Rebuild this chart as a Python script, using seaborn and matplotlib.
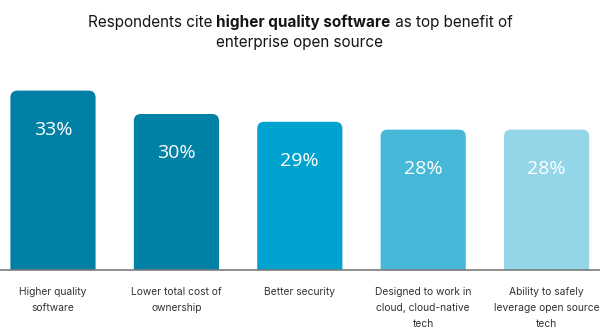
import matplotlib
matplotlib.use("Agg")
import matplotlib.pyplot as plt
from matplotlib.patches import FancyBboxPatch
import seaborn as sns
import pandas as pd

categories = [
    "Higher quality\nsoftware",
    "Lower total cost of\nownership",
    "Better security",
    "Designed to work in\ncloud, cloud-native\ntech",
    "Ability to safely\nleverage open source\ntech",
]
values = [33, 30, 29, 28, 28]
value_labels = ["33%", "30%", "29%", "28%", "28%"]
colors = ["#0080a4", "#0081a5", "#00a3d0", "#46b9da", "#93d6e8"]

title_parts = [
    ("Respondents cite ", "normal"),
    ("higher quality software", "bold"),
    (" as top benefit of", "normal"),
]
title_line2 = "enterprise open source"

sns.set_theme(style="white")
plt.rcParams["font.family"] = ["Inter", "DejaVu Sans"]

W, H, DPI = 600, 331, 100
fig = plt.figure(figsize=(W / DPI, H / DPI), dpi=DPI)
fig.patch.set_facecolor("white")

# axes spans the full width; baseline at y=270 px, top at y=80 px
ax = fig.add_axes([0, 61 / H, 1, 190 / H])

df = pd.DataFrame({"category": categories, "value": values})
sns.barplot(data=df, x="category", y="value", hue="category",
            palette=colors, legend=False, width=0.69, ax=ax,
            saturation=1)

ymin, ymax = 10, 10 + 190 / 7.8
xmin, xmax = -53 / 123.4, (600 - 53) / 123.4
ax.set_xlim(xmin, xmax)
ax.set_ylim(ymin, ymax)

# convert plain bars into bars with rounded top corners
px_per_x = W / (xmax - xmin)
px_per_y = 190 / (ymax - ymin)
radius_px = 7
for p in list(ax.patches):
    x, w, h = p.get_x(), p.get_width(), p.get_height()
    fc = p.get_facecolor()
    p.remove()
    rb = FancyBboxPatch((x, 0), w, h,
                        boxstyle=f"round,pad=0,rounding_size={radius_px / px_per_x}",
                        mutation_aspect=px_per_x / px_per_y,
                        facecolor=fc, edgecolor="none", linewidth=0)
    ax.add_patch(rb)

for i, (v, lab) in enumerate(zip(values, value_labels)):
    ax.annotate(lab, (i, v), xytext=(0, -39), textcoords="offset pixels",
                ha="center", va="center", color="white", fontsize=14,
                family=["Open Sans", "DejaVu Sans"])

for s in ["top", "left", "right"]:
    ax.spines[s].set_visible(False)
ax.spines["bottom"].set_color("#7a7a7a")
ax.spines["bottom"].set_linewidth(1.2)
ax.set_yticks([])
ax.set_xlabel("")
ax.set_ylabel("")
ax.tick_params(axis="x", length=0, pad=12.5, labelsize=7.4, labelcolor="#333333")
for t in ax.get_xticklabels():
    t.set_linespacing(1.7)
    t.set_verticalalignment("top")

# title: first line mixes regular and bold runs
fig.canvas.draw()
renderer = fig.canvas.get_renderer()
title_size = 11
title_color = "#151515"
widths = []
tmp = []
for txt, wt in title_parts:
    t = fig.text(0, 0, txt, fontsize=title_size, fontweight=wt)
    bb = t.get_window_extent(renderer)
    widths.append(bb.width)
    tmp.append(t)
for t in tmp:
    t.remove()
total = sum(widths)
x0 = W / 2 - total / 2
y1 = 1 - 22 / H
for (txt, wt), wd in zip(title_parts, widths):
    fig.text(x0 / W, y1, txt, fontsize=title_size, fontweight=wt,
             color=title_color, ha="left", va="center")
    x0 += wd
fig.text(0.5, 1 - 43 / H, title_line2, fontsize=title_size,
         color=title_color, ha="center", va="center")

fig.savefig("out.png", dpi=DPI, facecolor="white")
